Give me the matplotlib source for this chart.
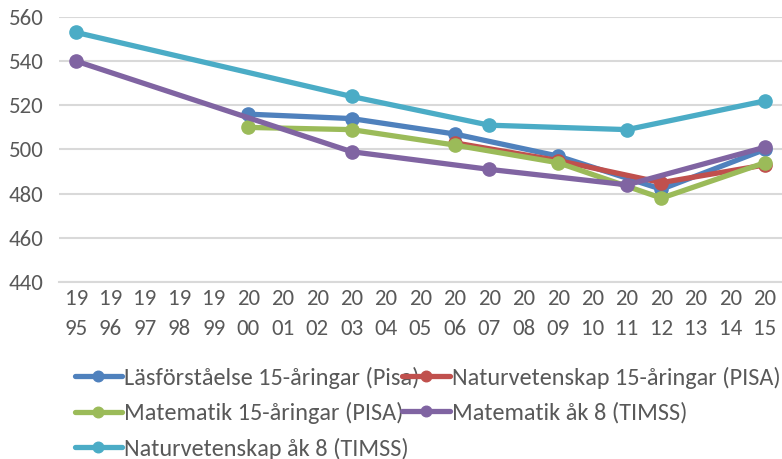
import matplotlib.pyplot as plt

plt.rcParams['font.family'] = ['Carlito', 'DejaVu Sans']

years = list(range(1995, 2016))
tick_labels = ["%d\n%02d" % (y // 100, y % 100) for y in years]

pisa_years = [2000, 2003, 2006, 2009, 2012, 2015]
las_pisa = [516, 514, 507, 497, 482, 500]
mat_pisa = [510, 509, 502, 494, 478, 494]

nat_pisa_years = [2006, 2009, 2012, 2015]
nat_pisa = [503, 495, 485, 493]

timss_years = [1995, 2003, 2007, 2011, 2015]
mat_timss = [540, 499, 491, 484, 501]
nat_timss = [553, 524, 511, 509, 522]

series = [
    ("Läsförståelse 15-åringar (Pisa)", pisa_years, las_pisa, '#4f81bd'),
    ("Naturvetenskap 15-åringar (PISA)", nat_pisa_years, nat_pisa, '#c0504d'),
    ("Matematik 15-åringar (PISA)", pisa_years, mat_pisa, '#9bbb59'),
    ("Matematik åk 8 (TIMSS)", timss_years, mat_timss, '#8064a2'),
    ("Naturvetenskap åk 8 (TIMSS)", timss_years, nat_timss, '#4bacc6'),
]

fig = plt.figure(figsize=(7.82, 4.59), dpi=100)
ax = fig.add_axes([0.0754, 0.3856, 0.9246, 0.5774])

handles = {}
for name, xs, vals, col in series:
    idx = [years.index(x) for x in xs]
    h, = ax.plot(idx, vals, color=col, lw=3.8, marker='o', markersize=9.5,
                 solid_joinstyle='round', solid_capstyle='round', label=name)
    handles[name] = h

ax.set_xlim(-0.5, len(years) - 0.5)
ax.set_ylim(440, 560)
ax.set_yticks(range(440, 561, 20))
ax.set_xticks(range(len(years)))
ax.set_xticklabels(tick_labels, linespacing=1.6)
ax.tick_params(axis='both', length=0, labelsize=16.5, colors='#595959')
ax.tick_params(axis='x', pad=5)
ax.tick_params(axis='y', pad=11)
ax.grid(axis='y', color='#d9d9d9', lw=1.5)
ax.set_axisbelow(True)
for s in ['top', 'right', 'left']:
    ax.spines[s].set_visible(False)
ax.spines['bottom'].set_color('#d9d9d9')
ax.spines['bottom'].set_linewidth(1.5)

names = [s[0] for s in series]
order = [names[0], names[2], names[4], names[1], names[3]]
fig.legend([handles[n] for n in order], order, ncol=2, loc='upper left',
           bbox_to_anchor=(0.083, 0.222), frameon=False, fontsize=17.5,
           handlelength=1.95, handletextpad=0.1, columnspacing=-0.72,
           labelspacing=0.55, labelcolor='#595959', borderaxespad=0,
           markerscale=0.8)

fig.savefig('out.png', dpi=100)
